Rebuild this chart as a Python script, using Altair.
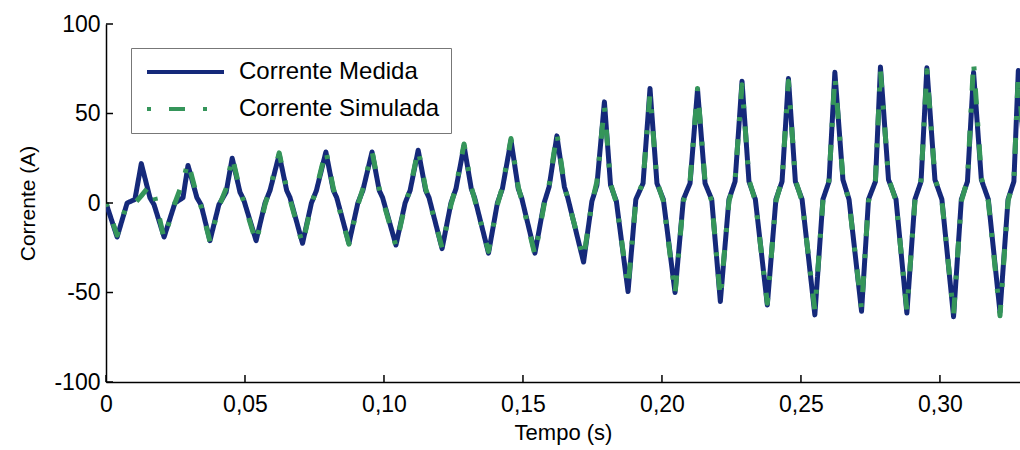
import altair as alt
import pandas as pd

series = ["Corrente Medida", "Corrente Simulada"]
cores = ["#15297a", "#35955a"]

ticks_x = [0, 0.05, 0.10, 0.15, 0.20, 0.25, 0.30]
ticks_y = [-100, -50, 0, 50, 100]

tempo = [
    0.0000, 0.0040,
    0.0076, 0.0104, 0.0127, 0.0158, 0.0173, 0.0209,
    0.0248, 0.0277, 0.0295, 0.0327, 0.0342, 0.0374,
    0.0406, 0.0432, 0.0454, 0.0482, 0.0495, 0.0540,
    0.0572, 0.0590, 0.0623, 0.0650, 0.0662, 0.0707,
    0.0739, 0.0757, 0.0791, 0.0818, 0.0830, 0.0874,
    0.0906, 0.0924, 0.0957, 0.0983, 0.0995, 0.1043,
    0.1076, 0.1094, 0.1123, 0.1150, 0.1162, 0.1209,
    0.1241, 0.1259, 0.1288, 0.1314, 0.1326, 0.1376,
    0.1408, 0.1426, 0.1457, 0.1483, 0.1495, 0.1543,
    0.1576, 0.1594, 0.1622, 0.1649, 0.1661, 0.1718,
    0.1748, 0.1766, 0.1793, 0.1815, 0.1836, 0.1878,
    0.1906, 0.1932, 0.1957, 0.1982, 0.2005, 0.2047,
    0.2077, 0.2101, 0.2128, 0.2155, 0.2179, 0.2210,
    0.2241, 0.2263, 0.2288, 0.2313, 0.2336, 0.2379,
    0.2410, 0.2432, 0.2455, 0.2480, 0.2504, 0.2550,
    0.2579, 0.2601, 0.2622, 0.2651, 0.2673, 0.2718,
    0.2743, 0.2768, 0.2786, 0.2815, 0.2842, 0.2881,
    0.2910, 0.2932, 0.2953, 0.2982, 0.3007, 0.3049,
    0.3077, 0.3099, 0.3121, 0.3149, 0.3174, 0.3216,
    0.3245, 0.3266, 0.3282, 0.3310,
]

corrente_medida = [
    0, -19,
    0, 2, 22, 3, -1, -19,
    0, 3, 21, 3, -1, -21,
    -1, 6, 25, 6, 2, -21,
    0, 7, 27, 7, 3, -22.5,
    0, 7, 28.5, 7, 3, -22.5,
    0, 7, 28.5, 7, 3, -23.5,
    0, 7, 29.5, 7, 3, -25.5,
    0, 8, 32, 8, 3, -28,
    0, 8, 35, 8, 3, -28,
    0, 9, 37.5, 9, 3, -33,
    1, 10, 56.5, 10, 1, -49.5,
    2, 11, 64, 11, 2, -50,
    2, 11, 63.5, 11, 2, -55,
    2, 12, 68, 12, 2, -57,
    2, 12, 69.5, 12, 2, -62.5,
    2, 12, 73, 13, 2, -60.5,
    2, 12, 76, 13, 2, -61.5,
    2, 12, 75.5, 13, 2, -63.5,
    2, 12, 73, 13, 2, -61,
    2, 12, 74, 13,
]

corrente_simulada = [
    0, -18,
    0, 0, 4, 10, 5, -20,
    0, 12, 23, 4, -2, -21.5,
    -2, 8, 26, 7, 1, -22,
    -1, 8, 28, 8, 2, -23,
    -1, 8, 29.5, 8, 2, -23,
    -1, 8, 29, 8, 2, -24,
    -1, 8, 30, 8, 2, -25,
    -1, 9, 33, 9, 2, -27,
    -1, 9, 36, 9, 2, -29,
    -1, 10, 39, 10, 2, -31,
    0, 12, 54, 11, 0, -47,
    1, 12, 61, 12, 1, -51,
    1, 12, 64, 12, 1, -53,
    1, 13, 66, 13, 1, -56,
    1, 13, 68, 13, 1, -60,
    1, 13, 71, 14, 1, -59,
    1, 13, 74, 14, 1, -60,
    1, 13, 74, 14, 1, -62,
    1, 13, 79, 14, 1, -63,
    1, 13, 72, 14,
]

n = len(tempo)
df = pd.DataFrame({
    "t": tempo + tempo,
    "i": corrente_medida + corrente_simulada,
    "serie": [series[0]] * n + [series[1]] * n,
})
df_tx = pd.DataFrame({"t": ticks_x})
df_ty = pd.DataFrame({"i": ticks_y})

W, H = 914, 358
FONT = "Liberation Sans"
x_scale = alt.Scale(domain=[0, 0.3288], nice=False, zero=False)
y_scale = alt.Scale(domain=[-100, 100], nice=False)

x_axis = alt.Axis(values=ticks_x, title="Tempo (s)", tickSize=0,
                  labelExpr="datum.value == 0 ? '0' : replace(format(datum.value, '.2f'), '.', ',')",
                  labelFontSize=23, labelPadding=11, titleFontSize=22, titlePadding=6,
                  labelFlush=False, grid=False)
y_axis = alt.Axis(values=ticks_y, title="Corrente (A)", tickSize=0,
                  labelExpr="datum.value + ''",
                  labelFontSize=23, labelPadding=6, titleFontSize=21, titlePadding=15,
                  labelFlush=False, grid=False)

lines = alt.Chart(df).mark_line(strokeWidth=5, clip=True, strokeJoin="round").encode(
    x=alt.X("t:Q", scale=x_scale, axis=x_axis),
    y=alt.Y("i:Q", scale=y_scale, axis=y_axis),
    color=alt.Color("serie:N", scale=alt.Scale(domain=series, range=cores), title=None),
    strokeDash=alt.StrokeDash("serie:N",
                              scale=alt.Scale(domain=series, range=[[1, 0], [4, 18, 16, 18]]),
                              title=None),
    order=alt.Order("t:Q"),
)

ticks_y_layer = alt.Chart(df_ty).mark_rule(color="black", strokeWidth=1.5).encode(
    y=alt.Y("i:Q", scale=y_scale, axis=y_axis),
    x=alt.value(0), x2=alt.value(7),
)
ticks_x_layer = alt.Chart(df_tx).mark_rule(color="black", strokeWidth=1.5).encode(
    x=alt.X("t:Q", scale=x_scale, axis=x_axis),
    y=alt.value(H), y2=alt.value(H - 7),
)

chart = alt.layer(lines, ticks_y_layer, ticks_x_layer).properties(
    width=W, height=H,
    autosize=alt.AutoSizeParams(type="none"),
    padding={"left": 106, "top": 24, "right": 0, "bottom": 68},
).configure_view(stroke=None).configure_axis(
    labelFont=FONT, titleFont=FONT, labelColor="black", titleColor="black",
    titleFontWeight="normal", domainColor="black", domainWidth=1.5,
).configure_legend(
    orient="none", legendX=25, legendY=24,
    fillColor="white", strokeColor="#777777", padding=11,
    labelFont=FONT, labelFontSize=24, labelColor="black", labelOffset=13,
    labelLimit=400, clipHeight=26, rowPadding=11, symbolOffset=3,
    symbolType="stroke", symbolSize=5929, symbolStrokeWidth=4,
)

chart.save("out.html", embed_options={"renderer": "svg", "actions": False})
